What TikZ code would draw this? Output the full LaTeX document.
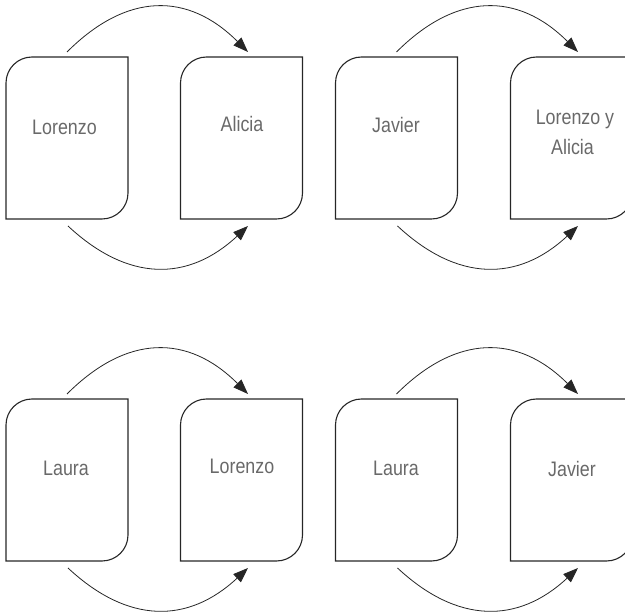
\documentclass[tikz,border=0pt]{standalone}
\usepackage{fontspec}
\setmainfont{Liberation Sans}[FakeStretch=0.85]
\usetikzlibrary{arrows.meta}
\definecolor{txtgray}{RGB}{105,105,105}
\tikzset{
  leaf/.style={rectangle, minimum width=122pt, minimum height=162pt, inner sep=0pt, outer sep=0pt},
  boxline/.style={line width=1.1pt, black!85},
  conn/.style={line width=0.8pt, black!85, -{Triangle[length=15pt,width=11pt]}},
  lbl/.style={anchor=base, font=\fontsize{21}{30}\selectfont, text=txtgray, inner sep=0pt, align=center}
}
\newcommand\leafoutline[1]{%
  \draw[boxline] (#1.south west) -- ([yshift=-26pt]#1.north west)
    arc[start angle=180,end angle=90,radius=26pt] -- (#1.north east)
    -- ([yshift=26pt]#1.south east)
    arc[start angle=0,end angle=-90,radius=26pt] -- cycle;}
\newcommand\leafpair[2]{%
  \draw[conn] ([yshift=5pt]#1.north) .. controls +(60pt,60pt) and +(-60pt,60pt) .. ([shift={(6.5pt,5pt)}]#2.north);
  \draw[conn] ([shift={(1pt,-7pt)}]#1.south) .. controls +(60pt,-56pt) and +(-60pt,-56pt) .. ([shift={(6.5pt,-7pt)}]#2.south);}
\begin{document}
\begin{tikzpicture}
\useasboundingbox (0,0) rectangle (625pt,-612pt);
% top row
\node[leaf] (A1) at (67pt,-138pt) {};
\node[leaf] (B1) at (241.5pt,-138pt) {};
\node[leaf] (A2) at (396.5pt,-138pt) {};
\node[leaf] (B2) at (571.5pt,-138pt) {};
% bottom row
\node[leaf] (A3) at (67pt,-480pt) {};
\node[leaf] (B3) at (241.5pt,-480pt) {};
\node[leaf] (A4) at (396.5pt,-480pt) {};
\node[leaf] (B4) at (571.5pt,-480pt) {};
\foreach \n in {A1,B1,A2,B2,A3,B3,A4,B4}{\leafoutline{\n}}
\leafpair{A1}{B1}
\leafpair{A2}{B2}
\leafpair{A3}{B3}
\leafpair{A4}{B4}
% labels
\node[lbl] (tA1) at (64.5pt,-135pt) {Lorenzo};
\node[lbl] (tB1) at (242pt,-132pt) {Alicia};
\node[lbl] (tA2) at (396pt,-133pt) {Javier};
\node[lbl] (tB2a) at (575pt,-125pt) {Lorenzo y};
\node[lbl] (tB2b) at (572.5pt,-155pt) {Alicia};
\node[lbl] (tA3) at (66pt,-476pt) {Laura};
\node[lbl] (tB3) at (242pt,-474pt) {Lorenzo};
\node[lbl] (tA4) at (396pt,-476pt) {Laura};
\node[lbl] (tB4) at (572pt,-477pt) {Javier};
\end{tikzpicture}
\end{document}
